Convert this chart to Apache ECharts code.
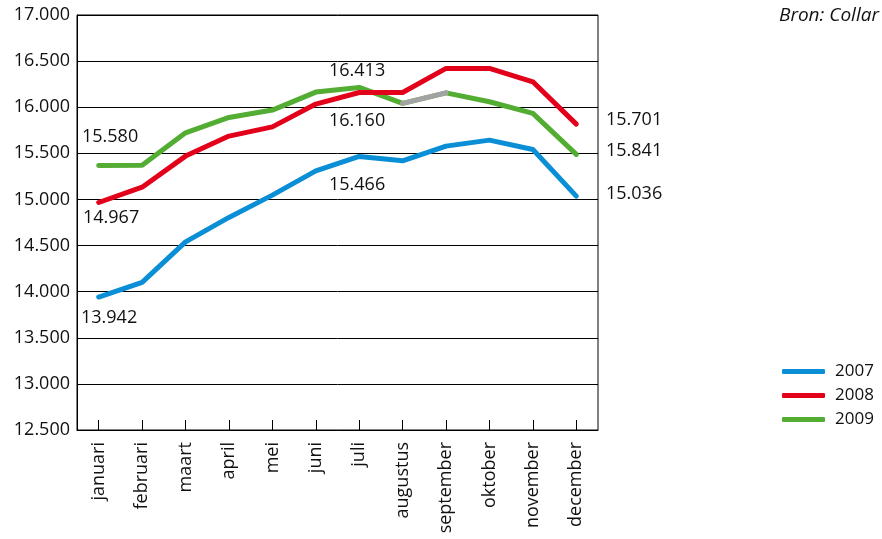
<!DOCTYPE html>
<html>
<head>
<meta charset="utf-8">
<script src="https://cdn.jsdelivr.net/npm/echarts@6/dist/echarts.min.js"></script>
<style>
html,body{margin:0;padding:0;background:#fff;}
#c{width:882px;height:539px;}
</style>
</head>
<body>
<div id="c"></div>
<script>
const months = ['januari','februari','maart','april','mei','juni','juli','augustus','september','oktober','november','december'];
const y2007 = [13942,14100,14540,14805,15047,15310,15466,15419,15578,15643,15542,15036];
const y2008 = [14967,15133,15470,15687,15787,16034,16160,16160,16421,16421,16276,15817];
const y2009 = [15369,15370,15722,15889,15969,16164,16215,16041,16156,16059,15933,15488];
const y2009gap = [null,null,null,null,null,null,null,16041,16156,null,null,null];
const yTicks = {min:12500, max:17000, step:500};
const annotations = [
  {text:'15.580', x:82,  y:128},
  {text:'14.967', x:83,  y:209},
  {text:'13.942', x:81,  y:309},
  {text:'16.413', x:329, y:62},
  {text:'16.160', x:329, y:112},
  {text:'15.466', x:329, y:176},
  {text:'15.701', x:606, y:111},
  {text:'15.841', x:606, y:142},
  {text:'15.036', x:606, y:185}
];
const FONT = '"Open Sans", "Noto Sans", sans-serif';
const fmt = v => String(v).replace(/\B(?=(\d{3})+(?!\d))/g, '.');

const chart = echarts.init(document.getElementById('c'));
const lineStyle = (color) => ({color: color, width: 5, cap: 'round', join: 'round'});
chart.setOption({
  animation: false,
  backgroundColor: '#fff',
  grid: {left: 77, right: 284, top: 15, bottom: 109, show: true, borderColor: '#000', borderWidth: 1},
  legend: {
    data: ['2007','2008','2009'],
    orient: 'vertical', left: 777, top: 358,
    icon: 'roundRect', itemWidth: 43, itemHeight: 5, itemGap: 7,
    textStyle: {fontFamily: FONT, fontSize: 17, color: '#111', padding: [0,0,0,5]}
  },
  xAxis: {
    type: 'category', data: months, boundaryGap: true,
    axisLine: {lineStyle: {color: '#000', width: 1}},
    axisTick: {show: true, inside: true, alignWithLabel: true, length: 10, lineStyle: {color: '#000'}},
    axisLabel: {rotate: 90, margin: 12, fontFamily: FONT, fontSize: 18, color: '#111', interval: 0},
    splitLine: {show: false}
  },
  yAxis: {
    type: 'value', min: yTicks.min, max: yTicks.max, interval: yTicks.step,
    axisLine: {show: true, lineStyle: {color: '#000', width: 1}},
    axisTick: {show: false},
    axisLabel: {formatter: fmt, fontFamily: FONT, fontSize: 18, color: '#111', margin: 7},
    splitLine: {lineStyle: {color: '#000', width: 1}}
  },
  series: [
    {name:'2007', type:'line', data:y2007, symbol:'none', lineStyle:lineStyle('#0a8ed6'), itemStyle:{color:'#0a8ed6'}, z:2},
    {name:'2009', type:'line', data:y2009, symbol:'none', lineStyle:lineStyle('#52ad32'), itemStyle:{color:'#52ad32'}, z:3},
    {name:'2008', type:'line', data:y2008, symbol:'none', lineStyle:lineStyle('#e3001b'), itemStyle:{color:'#e3001b'}, z:4},
    {name:'2009 gap', type:'line', data:y2009gap, symbol:'none', connectNulls:false, lineStyle:lineStyle('#a3a3a3'), itemStyle:{color:'#a3a3a3'}, z:5}
  ],
  graphic: annotations.map(a => ({
    type: 'text', left: a.x, top: a.y,
    style: {text: a.text, font: '18px ' + FONT, fill: '#111'}
  })).concat([{
    type: 'text', left: 779, top: 6,
    style: {text: 'Bron: Collar', font: 'italic 19px ' + FONT, fill: '#111'}
  }])
});
</script>
</body>
</html>
